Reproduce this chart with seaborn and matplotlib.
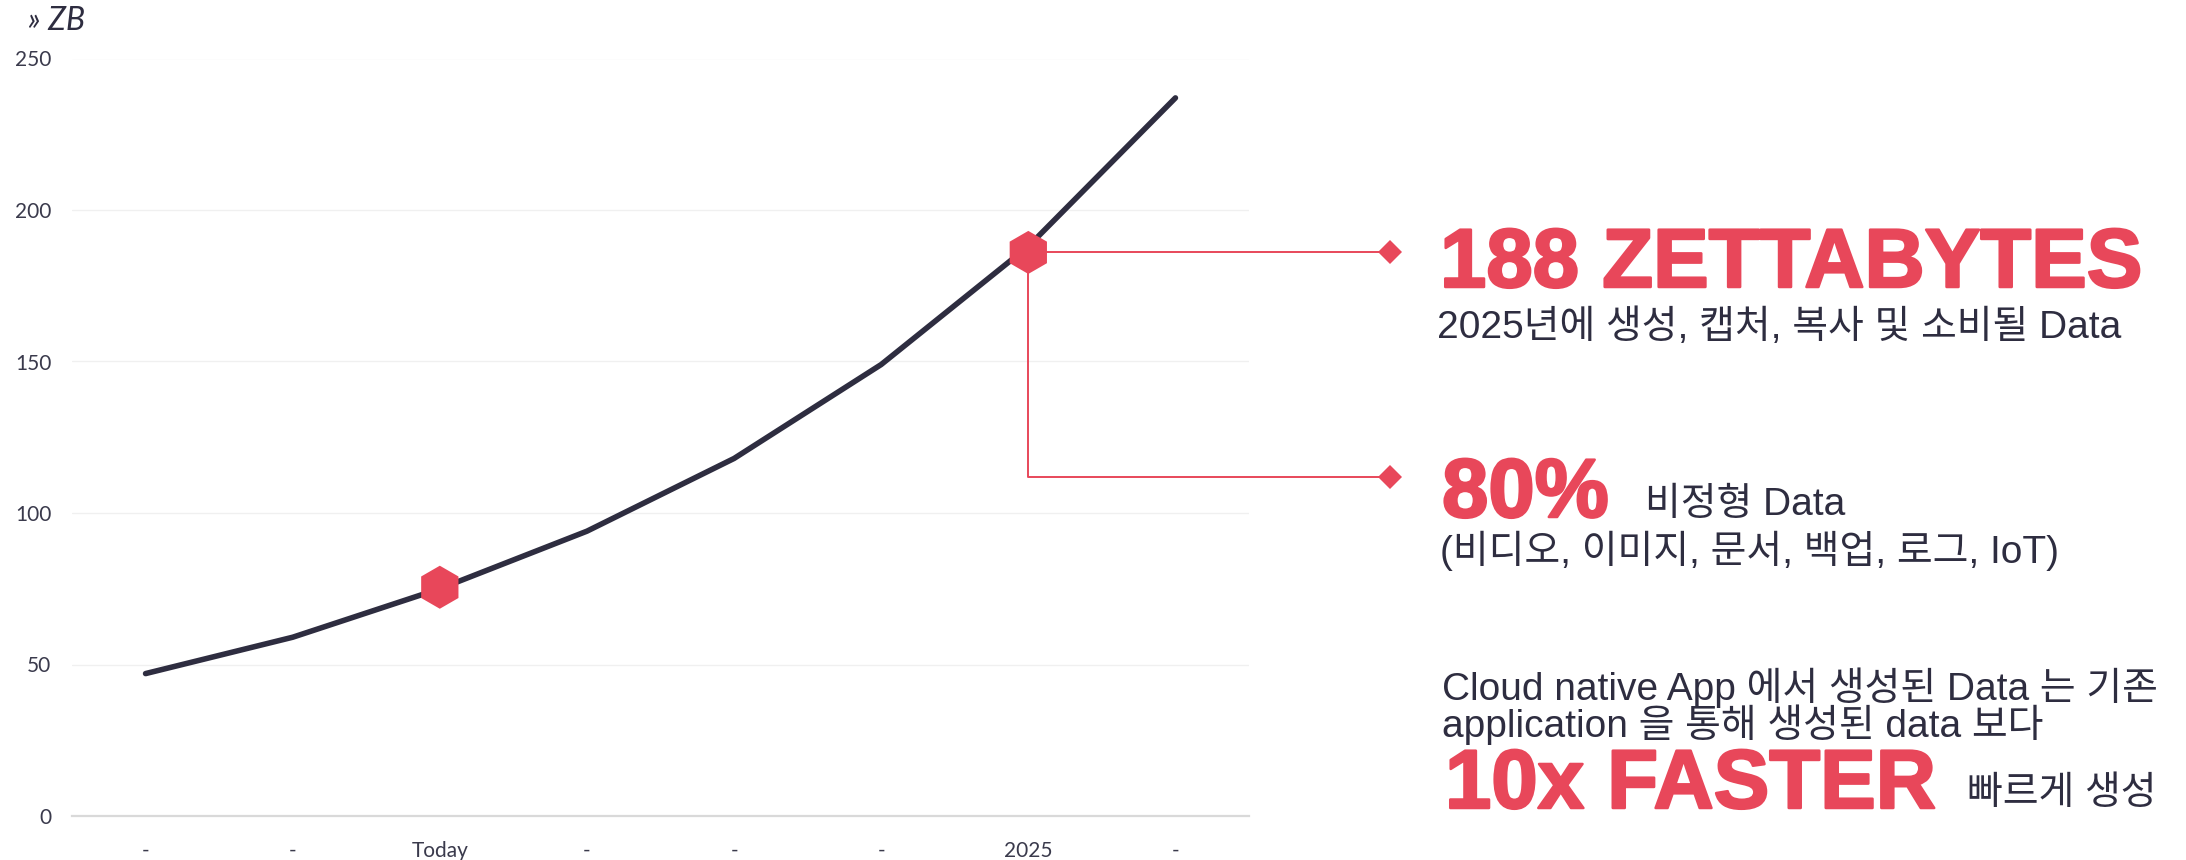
import numpy as np
import matplotlib
matplotlib.use("Agg")
import matplotlib.pyplot as plt
import matplotlib.patheffects as pe
import seaborn as sns

# data (zettabytes)
categories = ["-", "-", "Today", "-", "-", "-", "2025", "-"]
values = [47, 59, 75, 94, 118, 149, 188, 237]
highlight = ["Today", "2025"]
highlight_values = [75.5, 186]
y_ticks = [0, 50, 100, 150, 200, 250]

W, H = 2186, 860
RED = "#E8475A"
NAVY = "#2E2D40"
KR = ["Liberation Sans", "Noto Sans CJK KR"]
BOLD = ["Liberation Sans", "DejaVu Sans"]

sns.set_style("white")
plt.rcParams["font.family"] = ["Lato", "DejaVu Sans"]


def fx(px):
    return px / W


def fy(py):
    return 1 - py / H


fig = plt.figure(figsize=(W / 100, H / 100), dpi=100)
ax = fig.add_axes([fx(72), fy(816), fx(1249 - 72), (816 - 58.5) / H])

pos = np.arange(len(categories))
sns.lineplot(x=pos, y=values, ax=ax, color=NAVY, linewidth=4, zorder=3)

hi_idx = [categories.index(h) for h in highlight]
sns.scatterplot(x=pos[hi_idx], y=highlight_values, ax=ax,
                marker="h", s=31 ** 2, color=RED, edgecolor="none", zorder=4)

ax.set_xlim(-0.5, len(categories) - 0.5)
ax.set_ylim(0, 250)
ax.set_xticks(pos)
ax.set_xticklabels(categories)
ax.set_yticks(y_ticks)
ax.set_xlabel("")
ax.set_ylabel("")
ax.tick_params(axis="both", length=0, labelsize=15, labelcolor="#3A3A4C")
ax.tick_params(axis="y", pad=15)
ax.tick_params(axis="x", pad=18)
ax.yaxis.grid(True, color="#F0F0F0", linewidth=1)
ax.set_axisbelow(True)
for s in ["top", "right", "left"]:
    ax.spines[s].set_visible(False)
ax.spines["bottom"].set_color("#D9D9D9")
ax.spines["bottom"].set_linewidth(1.6)

fig.text(fx(28), fy(30), "» ZB", fontsize=23, style="italic",
         color=NAVY, family=["Lato", "DejaVu Sans"], va="baseline")

# callout connectors from the 2025 marker (display pixels = figure pixels at dpi 100)
fig.canvas.draw()
i25 = highlight.index("2025")
mx, my = ax.transData.transform((pos[hi_idx[i25]], highlight_values[i25]))
diamond_x = 1390
low_y = H - 477
fig.add_artist(plt.Line2D([mx, diamond_x], [my, my], transform=None,
                          color=RED, linewidth=1.4, zorder=2))
fig.add_artist(plt.Line2D([mx, mx, diamond_x], [my, low_y, low_y], transform=None,
                          color=RED, linewidth=1.4, zorder=2))
fig.add_artist(plt.Line2D([diamond_x, diamond_x], [my, low_y], transform=None,
                          linestyle="none", marker="D", markersize=12.5,
                          color=RED, markeredgewidth=0))

heavy = [pe.withStroke(linewidth=1.8, foreground=RED)]
big = dict(fontsize=60, fontweight="bold", color=RED, family=BOLD,
           va="baseline", path_effects=heavy)
small = dict(fontsize=28, color=NAVY, family=KR, va="baseline")

fig.text(fx(1440), fy(287), "188 ZETTABYTES", **big)
fig.text(fx(1437), fy(338), "2025년에 생성, 캡처, 복사 및 소비될 Data", **small)

fig.text(fx(1442), fy(517), "80%", **big)
fig.text(fx(1645), fy(515), "비정형 Data", **small)
fig.text(fx(1440), fy(563), "(비디오, 이미지, 문서, 백업, 로그, IoT)", **small)

fig.text(fx(1442), fy(700), "Cloud native App 에서 생성된 Data 는 기존", **small)
fig.text(fx(1442), fy(737), "application 을 통해 생성된 data 보다", **small)
fig.text(fx(1445), fy(808), "10x FASTER", **big)
fig.text(fx(1967), fy(804), "빠르게 생성", **small)

fig.savefig("out.png", dpi=100)
